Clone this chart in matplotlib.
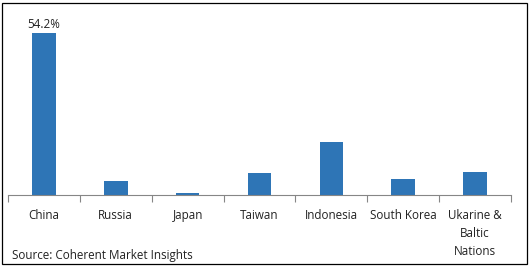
import numpy as np
import matplotlib.pyplot as plt
from matplotlib.patches import Rectangle

# ------------------------------------------------------------
# Data
# ------------------------------------------------------------
countries = ["China", "Russia", "Japan", "Taiwan", "Indonesia",
             "South Korea", "Ukarine &\nBaltic\nNations"]
share = [54.2, 4.7, 0.7, 7.4, 17.7, 5.4, 7.7]

bar_color = "#2E75B6"
axis_color = "#868686"

plt.rcParams['font.family'] = ['Open Sans', 'DejaVu Sans']

fig = plt.figure(figsize=(5.30, 2.66), dpi=100)
ax = fig.add_axes([8 / 530, 1 - 195 / 266, (511 - 8) / 530, (195 - 15.6) / 266])

x = np.arange(len(countries))
ax.bar(x, share, width=0.33, color=bar_color)

ax.set_xlim(-0.5, len(countries) - 0.5)
ax.set_ylim(0, 60)

# data label for the largest bar only
ax.text(x[0], share[0] + 0.6, f"{share[0]}%", ha="center", va="bottom",
        fontsize=8.4, color="#222222")

# category ticks sit between categories, labels in the middle
ax.set_xticks(np.arange(len(countries) + 1) - 0.5)
ax.set_xticklabels([])
ax.set_xticks(x, minor=True)
ax.set_xticklabels(countries, minor=True, fontsize=8.4, color="#222222",
                   va="top", linespacing=1.5)
ax.tick_params(axis="x", which="major", length=5, color=axis_color, width=0.8)
ax.tick_params(axis="x", which="minor", length=0, pad=10)
ax.set_yticks([])

for side in ["top", "right", "left"]:
    ax.spines[side].set_visible(False)
ax.spines["bottom"].set_color(axis_color)
ax.spines["bottom"].set_linewidth(0.8)

fig.text(12 / 530, 1 - 256 / 266, "Source: Coherent Market Insights",
         ha="left", va="center", fontsize=8.4, color="#222222")

# outer frame
fig.patches.append(Rectangle((2 / 530, 2 / 266), 525 / 530, 261 / 266,
                             transform=fig.transFigure, fill=False,
                             edgecolor="black", linewidth=0.9))

fig.savefig("out.png", dpi=100)
